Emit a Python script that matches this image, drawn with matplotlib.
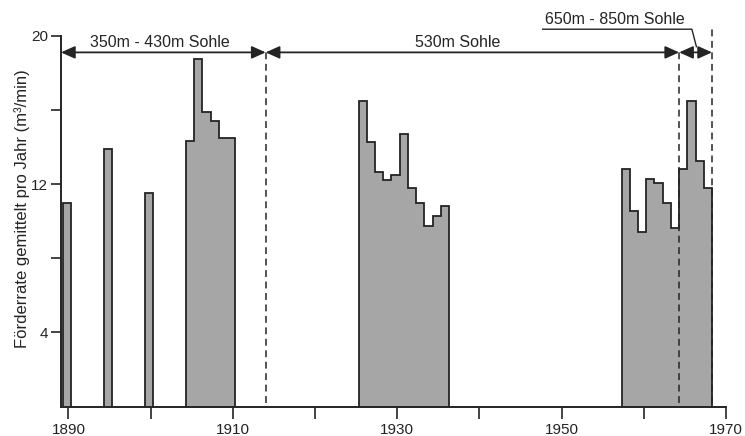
import matplotlib
matplotlib.use('Agg')
import matplotlib.pyplot as plt
import numpy as np

plt.rcParams['font.family'] = ['Liberation Sans', 'DejaVu Sans']

# yearly mean rates (m3/min)
years = [1890, 1895, 1900,
         1905, 1906, 1907, 1908, 1909, 1910,
         1926, 1927, 1928, 1929, 1930, 1931, 1932, 1933, 1934, 1935, 1936,
         1958, 1959, 1960, 1961, 1962, 1963, 1964, 1965, 1966, 1967, 1968]
rates = [11.0, 13.9, 11.5,
         14.3, 18.75, 15.9, 15.4, 14.5, 14.5,
         16.5, 14.25, 12.65, 12.2, 12.5, 14.7, 11.8, 10.95, 9.75, 10.3, 10.8,
         12.8, 10.55, 9.4, 12.25, 12.05, 10.95, 9.65, 12.8, 16.5, 13.25, 11.8]

section_names = ['350m - 430m Sohle', '530m Sohle', '650m - 850m Sohle']
section_bounds = [1889.1, 1914.0, 1964.3, 1968.3]

x_ticks = list(range(1890, 1971, 10))
x_labels = ['1890', '', '1910', '', '1930', '', '1950', '', '1970']
y_ticks = [4, 8, 12, 16, 20]
y_labels = ['4', '', '12', '', '20']

ink = '#242424'
fill = '#a6a6a6'
shift = -0.2  # the scanned bars sit slightly left of the year centre

fig = plt.figure(figsize=(7.45, 4.36), dpi=100)
ax = fig.add_axes([61 / 745, 1 - 406.5 / 436, 665 / 745, 370.8 / 436])

# split into runs of consecutive years, draw each as one stepped block
runs = []
start = 0
for i in range(1, len(years) + 1):
    if i == len(years) or years[i] != years[i - 1] + 1:
        runs.append((start, i))
        start = i

for s, e in runs:
    yrs = np.array(years[s:e], dtype=float) + shift
    edges = np.append(yrs - 0.5, yrs[-1] + 0.5)
    ax.stairs(rates[s:e], edges, baseline=0, fill=True,
              facecolor=fill, edgecolor=ink, lw=1.3)

# dashed section boundaries
tops = [19.35, 19.35, 20.5]
for b, t in zip(section_bounds[1:], tops):
    ax.plot([b, b], [0.2, t], color=ink, lw=1.1, dashes=(4.5, 3), clip_on=False)

# double arrows for the sections
style = matplotlib.patches.ArrowStyle('<|-|>', head_length=0.6, head_width=0.27)
for i in range(3):
    ax.annotate('', xy=(section_bounds[i], 19.1), xytext=(section_bounds[i + 1], 19.1),
                arrowprops=dict(arrowstyle=style, color=ink, lw=1.3,
                                mutation_scale=14, shrinkA=0, shrinkB=0),
                annotation_clip=False)

ax.text(1901.15, 19.65, section_names[0], ha='center', va='center', fontsize=11.5, color=ink)
ax.text(1937.4, 19.65, section_names[1], ha='center', va='center', fontsize=11.5, color=ink)
ax.text(1956.5, 20.9, section_names[2], ha='center', va='center', fontsize=11.5,
        color=ink, clip_on=False)
ax.plot([1947.7, 1965.85, 1966.4], [20.35, 20.35, 19.41], color=ink, lw=1.0, clip_on=False)

ax.set_xlim(1889.1, 1970)
ax.set_ylim(0, 20)
ax.set_xticks(x_ticks)
ax.set_xticklabels(x_labels)
ax.set_yticks(y_ticks)
ax.set_yticklabels(y_labels)
ax.tick_params(axis='x', length=8.6, width=1.2, pad=3.5, labelsize=11, colors=ink)
ax.tick_params(axis='y', length=7.2, width=1.2, pad=2, labelsize=11, colors=ink)

for side in ['top', 'right']:
    ax.spines[side].set_visible(False)
for side in ['left', 'bottom']:
    ax.spines[side].set_linewidth(1.4)
    ax.spines[side].set_color(ink)

fig.text(22 / 745, 1 - 209 / 436, 'Förderrate gemittelt pro Jahr (m³/min)',
         rotation=90, ha='center', va='center', fontsize=12, color=ink)

fig.savefig('out.png', dpi=100)
